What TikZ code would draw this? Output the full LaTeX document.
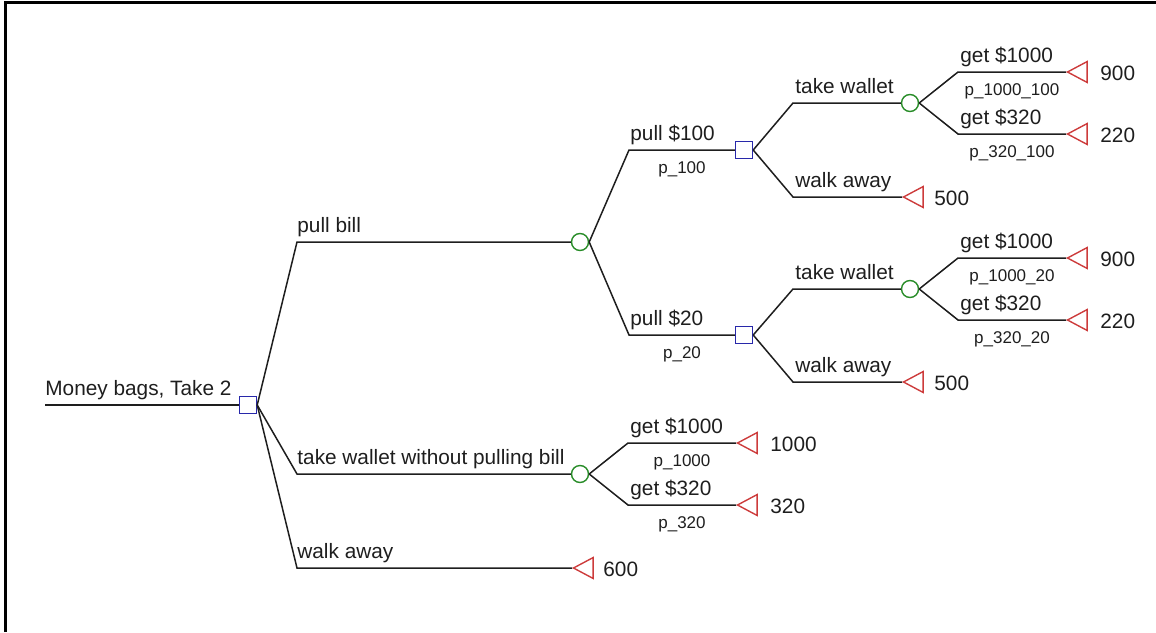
\documentclass[tikz,border=0pt]{standalone}
\usepackage{fontspec}
\setmainfont{Liberation Sans}
\usetikzlibrary{shapes.geometric}
\definecolor{decblue}{RGB}{40,40,170}
\definecolor{chgreen}{RGB}{40,140,40}
\definecolor{termred}{RGB}{205,60,60}
\definecolor{linecol}{RGB}{30,30,30}
\tikzset{
  decision/.style={draw=decblue, line width=0.7pt, rectangle, minimum size=8.5pt, inner sep=0pt},
  chance/.style={draw=chgreen, line width=0.7pt, circle, minimum size=8.5pt, inner sep=0pt},
  terminal/.style={draw=termred, line width=0.7pt, isosceles triangle, shape border rotate=180,
     isosceles triangle apex angle=56, minimum height=9.8pt, inner sep=0pt, anchor=apex},
  branch/.style={draw=linecol, line width=0.75pt},
  lbl/.style={anchor=base west, inner sep=0pt, font=\fontsize{10.4}{12}\selectfont, text=linecol},
  prob/.style={anchor=base, inner sep=0pt, font=\fontsize{8.5}{10}\selectfont, text=linecol},
  val/.style={anchor=base west, inner sep=0pt, font=\fontsize{10.4}{12}\selectfont, text=linecol},
}
\begin{document}
\begin{tikzpicture}[x=0.5pt,y=-0.5pt]
\useasboundingbox (0,0) rectangle (1156,632);
% frame
\draw[line width=1.5pt] (5.5,632) -- (5.5,2.5) -- (1156,2.5);

% root
\coordinate (s0) at (45,405);
\node[decision] (d0) at (248,405) {};
\draw[branch] (s0) -- (d0.west);
\node[lbl] (l0) at (45,395) {Money bags, Take 2};

% level 1
\coordinate (k1) at (297,242);
\coordinate (k2) at (297,474);
\coordinate (k3) at (297,568);
\node[chance] (c1) at (580,242) {};
\node[chance] (c2) at (580,474) {};
\node[terminal] (t3) at (572,568) {};
\draw[branch] (d0.east) -- (k1) -- (c1.west);
\draw[branch] (d0.east) -- (k2) -- (c2.west);
\draw[branch] (d0.east) -- (k3) -- (t3.apex);
\node[lbl] (l1) at (297,232) {pull bill};
\node[lbl] (l2) at (297,464) {take wallet without pulling bill};
\node[lbl] (l3) at (297,558) {walk away};
\node[val] (v3) at (603,576) {600};

% chance c1
\coordinate (k11) at (629,150);
\coordinate (k12) at (629,335);
\node[decision] (d1) at (744,150) {};
\node[decision] (d2) at (744,335) {};
\draw[branch] (c1.east) -- (k11) -- (d1.west);
\draw[branch] (c1.east) -- (k12) -- (d2.west);
\node[lbl] (l11) at (630,140) {pull \$100};
\node[prob] (p11) at (682,173) {p\_100};
\node[lbl] (l12) at (630,325) {pull \$20};
\node[prob] (p12) at (682,358) {p\_20};

% decision d1
\coordinate (k111) at (793,103);
\coordinate (k112) at (793,197);
\node[chance] (c3) at (910,103) {};
\node[terminal] (t112) at (902,197) {};
\draw[branch] (d1.east) -- (k111) -- (c3.west);
\draw[branch] (d1.east) -- (k112) -- (t112.apex);
\node[lbl] (l111) at (795,93) {take wallet};
\node[lbl] (l112) at (795,187) {walk away};
\node[val] (v112) at (934,205) {500};

% chance c3
\coordinate (k1111) at (958,72);
\coordinate (k1112) at (958,134);
\node[terminal] (t1111) at (1066,72) {};
\node[terminal] (t1112) at (1066,134) {};
\draw[branch] (c3.east) -- (k1111) -- (t1111.apex);
\draw[branch] (c3.east) -- (k1112) -- (t1112.apex);
\node[lbl] (l1111) at (960,62) {get \$1000};
\node[prob] (p1111) at (1012,95) {p\_1000\_100};
\node[lbl] (l1112) at (960,124) {get \$320};
\node[prob] (p1112) at (1012,157) {p\_320\_100};
\node[val] (v1111) at (1100,80) {900};
\node[val] (v1112) at (1100,142) {220};

% decision d2
\coordinate (k121) at (793,289);
\coordinate (k122) at (793,382);
\node[chance] (c4) at (910,289) {};
\node[terminal] (t122) at (902,382) {};
\draw[branch] (d2.east) -- (k121) -- (c4.west);
\draw[branch] (d2.east) -- (k122) -- (t122.apex);
\node[lbl] (l121) at (795,279) {take wallet};
\node[lbl] (l122) at (795,372) {walk away};
\node[val] (v122) at (934,390) {500};

% chance c4
\coordinate (k1211) at (958,258);
\coordinate (k1212) at (958,320);
\node[terminal] (t1211) at (1066,258) {};
\node[terminal] (t1212) at (1066,320) {};
\draw[branch] (c4.east) -- (k1211) -- (t1211.apex);
\draw[branch] (c4.east) -- (k1212) -- (t1212.apex);
\node[lbl] (l1211) at (960,248) {get \$1000};
\node[prob] (p1211) at (1012,281) {p\_1000\_20};
\node[lbl] (l1212) at (960,310) {get \$320};
\node[prob] (p1212) at (1012,343) {p\_320\_20};
\node[val] (v1211) at (1100,266) {900};
\node[val] (v1212) at (1100,328) {220};

% chance c2
\coordinate (k21) at (628,443);
\coordinate (k22) at (628,505);
\node[terminal] (t21) at (736,443) {};
\node[terminal] (t22) at (736,505) {};
\draw[branch] (c2.east) -- (k21) -- (t21.apex);
\draw[branch] (c2.east) -- (k22) -- (t22.apex);
\node[lbl] (l21) at (630,433) {get \$1000};
\node[prob] (p21) at (682,466) {p\_1000};
\node[lbl] (l22) at (630,495) {get \$320};
\node[prob] (p22) at (682,528) {p\_320};
\node[val] (v21) at (770,451) {1000};
\node[val] (v22) at (770,513) {320};
\end{tikzpicture}
\end{document}
